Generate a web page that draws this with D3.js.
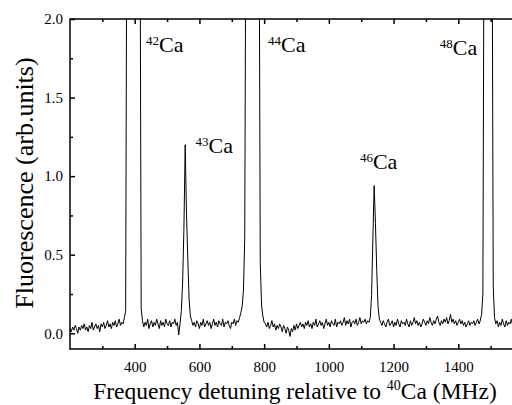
<!DOCTYPE html>
<html><head><meta charset="utf-8">
<script src="https://cdn.jsdelivr.net/npm/d3@7"></script>
<style>
html,body{margin:0;padding:0;background:#fff;}
svg, svg text, svg g{font-family:"Liberation Serif","Times New Roman",serif !important;}
svg text{fill:#000;}
</style></head>
<body>
<svg id="c" width="512" height="405" font-family="Liberation Serif"></svg>
<script>
// Sampling grid of the trace (MHz)
const freqStart = 200, freqStep = 4;
// Fluorescence trace (arb. units), one value per 4 MHz from 200 MHz
const fluorescence = [
 0.03,0.01,0.04,0.02,0.05,0.03,0.00,0.04,0.02,0.05,
 0.03,0.06,0.02,0.04,0.01,0.05,0.03,0.07,0.02,0.04,
 0.06,0.03,0.05,0.01,0.06,0.04,0.07,0.03,0.05,0.08,
 0.04,0.06,0.03,0.07,0.05,0.08,0.04,0.06,0.09,0.05,
 0.07,0.06,0.10,
 0.14,3,3,3,3,3,3,3,3,3,3,3,0.16,
 0.08,0.04,0.07,0.05,0.09,0.03,0.06,0.08,0.04,0.07,
 0.05,0.09,0.06,0.03,0.08,0.05,0.07,0.04,0.09,0.06,
 0.05,0.08,0.04,0.07,0.06,0.09,0.05,0.07,-0.01,0.06,
 0.14,0.32,0.66,1.20,0.76,0.48,0.22,0.11,0.08,
 0.05,0.07,0.04,0.08,0.06,0.03,0.07,0.05,0.09,0.04,
 0.06,0.08,0.05,0.07,0.03,0.06,0.09,0.05,0.07,0.04,
 0.08,0.06,0.05,0.09,0.04,0.07,0.06,0.08,0.05,0.03,
 0.07,0.06,0.09,0.05,0.08,0.07,0.10,
 0.13,0.17,0.27,0.60,3,3,3,3,3,3,3,3,3,3,3,0.45,0.18,0.11,0.07,
 0.06,0.04,0.07,0.03,0.05,0.08,0.04,0.06,0.02,0.05,
 0.03,0.06,0.04,0.01,0.05,0.03,0.00,0.04,0.02,-0.02,
 0.03,0.01,0.05,0.02,0.06,0.03,0.05,0.07,0.04,0.06,
 0.03,0.07,0.05,0.08,0.04,0.06,0.03,0.07,0.05,0.09,
 0.04,0.06,0.08,0.05,0.07,0.03,0.06,0.09,0.05,0.07,
 0.04,0.08,0.06,0.05,0.09,0.04,0.07,0.06,0.08,0.05,
 0.07,0.10,0.05,0.08,0.06,0.09,0.04,0.07,0.08,0.06,
 0.09,0.05,0.07,0.10,0.06,0.08,0.07,0.09,0.06,0.08,
 0.07,
 0.10,0.24,0.60,0.94,0.70,0.40,0.17,0.09,0.07,
 0.05,0.08,0.06,0.04,0.07,0.09,0.05,0.06,0.08,0.04,
 0.07,0.05,0.09,0.06,0.04,0.08,0.06,0.07,0.05,0.09,
 0.06,0.04,0.08,0.05,0.07,0.10,0.06,0.08,0.05,0.07,
 0.04,0.06,0.09,0.07,0.05,0.08,0.06,0.10,0.07,0.05,
 0.08,0.06,0.09,0.11,0.07,0.05,0.08,0.06,0.09,0.07,
 0.10,0.06,0.08,0.12,0.07,0.09,0.06,0.08,0.05,0.07,
 0.09,0.06,0.08,0.05,0.07,0.04,0.06,0.08,0.05,0.07,
 0.06,0.08,0.05,0.07,0.09,0.06,0.08,
 0.12,0.25,3,3,3,3,3,3,3,0.30,0.10,
 0.06,0.08,0.04,0.07,0.05,0.09,0.06,0.04,0.08,0.05,0.07,0.06,0.09,0.05
];
// Isotope labels: mass number and position in data units
const isoMass = ["42","43","44","46","48"];
const isoFreq = [435, 588, 812, 1096, 1343];
const isoY    = [1.79, 1.147, 1.79, 1.045, 1.77];

const xMajor = [400,600,800,1000,1200,1400];
const xMinor = [300,500,700,900,1100,1300,1500];
const yMajor = [0.0,0.5,1.0,1.5,2.0];
const yMinor = [0.25,0.75,1.25,1.75];

const FONT = "'Liberation Serif','Times New Roman',serif";
const svg = d3.select("#c");
const L = 70, R = 523, T = 19, B = 349;
const x = d3.scaleLinear().domain([200,1600]).range([L,R]);
const y = d3.scaleLinear().domain([-0.1,2.0]).range([B,T]);

svg.append("clipPath").attr("id","clip").append("rect")
  .attr("x",L).attr("y",T).attr("width",R-L).attr("height",B-T);

const pts = fluorescence.map((v,i)=>[freqStart+i*freqStep, v]);
svg.append("path").datum(pts)
  .attr("clip-path","url(#clip)")
  .attr("fill","none").attr("stroke","#000").attr("stroke-width",1)
  .attr("d", d3.line().x(d=>x(d[0])).y(d=>y(d[1])));

// Axes (inward ticks)
const fmtY = d3.format(".1f");
const gs = [];
gs.push(svg.append("g").attr("transform",`translate(0,${B})`)
  .call(d3.axisBottom(x).tickValues(xMajor).tickSize(-5).tickPadding(12).tickFormat(d3.format("d"))));
gs.push(svg.append("g").attr("transform",`translate(0,${B})`)
  .call(d3.axisBottom(x).tickValues(xMinor).tickSize(-3).tickFormat("")));
gs.push(svg.append("g").attr("transform",`translate(0,${T})`)
  .call(d3.axisTop(x).tickValues(xMajor).tickSize(-5).tickFormat("")));
gs.push(svg.append("g").attr("transform",`translate(0,${T})`)
  .call(d3.axisTop(x).tickValues(xMinor).tickSize(-3).tickFormat("")));
gs.push(svg.append("g").attr("transform",`translate(${L},0)`)
  .call(d3.axisLeft(y).tickValues(yMajor).tickSize(-5).tickPadding(7).tickFormat(fmtY)));
gs.push(svg.append("g").attr("transform",`translate(${L},0)`)
  .call(d3.axisLeft(y).tickValues(yMinor).tickSize(-3).tickFormat("")));

gs.forEach(g=>{ g.attr("font-family",FONT).attr("font-size",15); g.select(".domain").remove(); });
svg.selectAll(".tick line").attr("stroke","#000").attr("stroke-width",1.5);
svg.selectAll(".tick text").attr("font-family",FONT).attr("font-size",15).attr("fill","#000");
// frame
svg.append("rect").attr("x",L).attr("y",T).attr("width",R-L).attr("height",B-T)
  .attr("fill","none").attr("stroke","#000").attr("stroke-width",1.5);

// isotope labels
isoMass.forEach((m,i)=>{
  const t = svg.append("text").attr("x",x(isoFreq[i])).attr("y",y(isoY[i]))
    .attr("font-family",FONT).attr("font-size",22);
  t.append("tspan").text(m).attr("font-size",13).attr("dy","-7");
  t.append("tspan").text("Ca").attr("dy","7");
});

// axis titles
const xt = svg.append("text").attr("x",295).attr("y",399).attr("text-anchor","middle")
  .attr("font-family",FONT).attr("font-size",23.5);
xt.append("tspan").text("Frequency detuning relative to ");
xt.append("tspan").text("40").attr("font-size",14).attr("dy","-9");
xt.append("tspan").text("Ca (MHz)").attr("dy","9");

svg.append("text").attr("transform","translate(33,183) rotate(-90)")
  .attr("text-anchor","middle").attr("font-family",FONT).attr("font-size",26)
  .text("Fluorescence (arb.units)");
</script>
</body></html>
